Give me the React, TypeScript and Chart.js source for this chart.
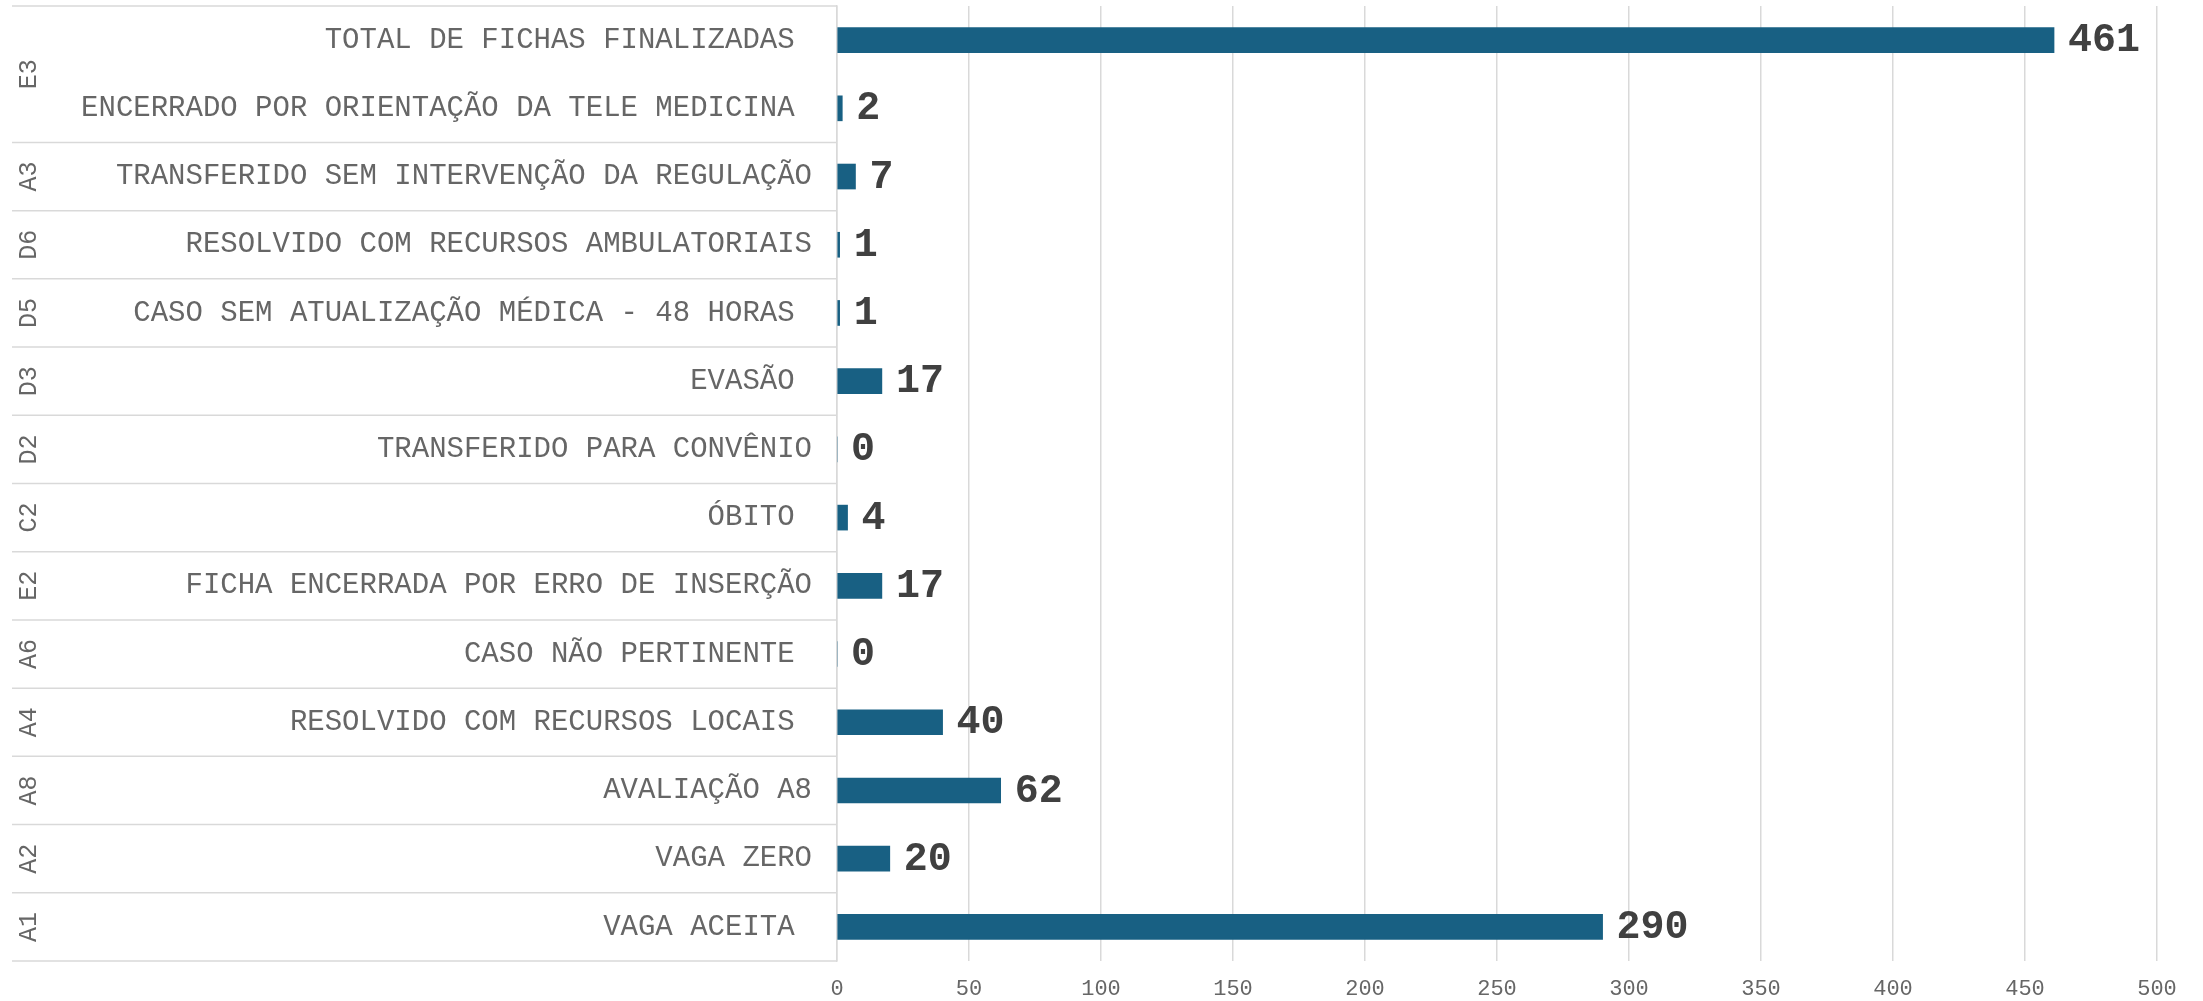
import React, { useEffect, useRef } from "react";
import { Chart, registerables } from "chart.js";

Chart.register(...registerables);

const groups: string[] = ["E3", "E3", "A3", "D6", "D5", "D3", "D2", "C2", "E2", "A6", "A4", "A8", "A2", "A1"];
const categories: string[] = [
  "TOTAL DE FICHAS FINALIZADAS ",
  "ENCERRADO POR ORIENTAÇÃO DA TELE MEDICINA ",
  "TRANSFERIDO SEM INTERVENÇÃO DA REGULAÇÃO",
  "RESOLVIDO COM RECURSOS AMBULATORIAIS",
  "CASO SEM ATUALIZAÇÃO MÉDICA - 48 HORAS ",
  "EVASÃO ",
  "TRANSFERIDO PARA CONVÊNIO",
  "ÓBITO ",
  "FICHA ENCERRADA POR ERRO DE INSERÇÃO",
  "CASO NÃO PERTINENTE ",
  "RESOLVIDO COM RECURSOS LOCAIS ",
  "AVALIAÇÃO A8",
  "VAGA ZERO",
  "VAGA ACEITA ",
];
const values: number[] = [461, 2, 7, 1, 1, 17, 0, 4, 17, 0, 40, 62, 20, 290];
const xMin = 0;
const xMax = 500;
const xStep = 50;

const MONO = "'Liberation Mono', 'DejaVu Sans Mono', monospace";
const GRID = "#d9d9d9";
const LABEL_GRAY = "#666666";

const groupPlugin = {
  id: "groupAxis",
  afterDraw(chart: any) {
    const { ctx, chartArea } = chart;
    const y = chart.scales.y;
    const n = categories.length;
    const left = 12;
    const right = chartArea.left;
    ctx.save();
    ctx.strokeStyle = GRID;
    ctx.lineWidth = 1.5;
    const line = (yy: number) => {
      ctx.beginPath();
      ctx.moveTo(left, yy);
      ctx.lineTo(right, yy);
      ctx.stroke();
    };
    line(chartArea.top);
    line(chartArea.bottom);
    for (let i = 0; i < n - 1; i++) {
      if (groups[i] !== groups[i + 1]) {
        line((y.getPixelForValue(i) + y.getPixelForValue(i + 1)) / 2);
      }
    }
    ctx.fillStyle = LABEL_GRAY;
    ctx.font = `25px ${MONO}`;
    ctx.textAlign = "center";
    ctx.textBaseline = "middle";
    let start = 0;
    for (let i = 1; i <= n; i++) {
      if (i === n || groups[i] !== groups[start]) {
        const cy = (y.getPixelForValue(start) + y.getPixelForValue(i - 1)) / 2;
        ctx.save();
        ctx.translate(29, cy);
        ctx.rotate(-Math.PI / 2);
        ctx.fillText(groups[start], 0, 0);
        ctx.restore();
        start = i;
      }
    }
    ctx.restore();
  },
};

const valueLabelPlugin = {
  id: "valueLabels",
  afterDatasetsDraw(chart: any) {
    const { ctx } = chart;
    const meta = chart.getDatasetMeta(0);
    ctx.save();
    ctx.fillStyle = "#404040";
    ctx.font = `bold 40px ${MONO}`;
    ctx.textAlign = "left";
    ctx.textBaseline = "middle";
    meta.data.forEach((bar: any, i: number) => {
      ctx.fillText(String(values[i]), bar.x + 14, bar.y + 1);
    });
    ctx.restore();
  },
};

export default function App() {
  const canvasRef = useRef<HTMLCanvasElement | null>(null);

  useEffect(() => {
    if (!canvasRef.current) return;
    const chart = new Chart(canvasRef.current, {
      type: "bar",
      data: {
        labels: categories,
        datasets: [
          {
            data: values,
            backgroundColor: "#186083",
            borderWidth: 0,
            barThickness: 25,
          },
        ],
      },
      options: {
        indexAxis: "y",
        animation: false,
        responsive: true,
        maintainAspectRatio: false,
        layout: { padding: { top: 6, right: 46, bottom: 0, left: 0 } },
        plugins: {
          legend: { display: false },
          tooltip: { enabled: false },
          title: { display: false },
        },
        scales: {
          y: {
            type: "category",
            grid: { display: false, drawTicks: false },
            border: { display: true, color: GRID, width: 1.5 },
            ticks: {
              font: { family: MONO, size: 29 },
              color: LABEL_GRAY,
              padding: 25,
              autoSkip: false,
            },
            afterFit: (s: any) => {
              s.width = 837;
              s.paddingTop = 0;
              s.paddingBottom = 0;
            },
          },
          x: {
            type: "linear",
            min: xMin,
            max: xMax,
            grid: { color: GRID, lineWidth: 1.5, drawTicks: false },
            border: { display: false },
            ticks: {
              stepSize: xStep,
              font: { family: MONO, size: 22 },
              color: LABEL_GRAY,
              padding: 15,
            },
            afterFit: (s: any) => {
              s.height = 40;
              s.paddingLeft = 0;
              s.paddingRight = 0;
            },
          },
        },
      },
      plugins: [groupPlugin, valueLabelPlugin],
    });
    return () => chart.destroy();
  }, []);

  return (
    <div style={{ position: "fixed", left: 0, top: 0, width: "2203px", height: "1001px", background: "#fff" }}>
      <canvas ref={canvasRef} />
    </div>
  );
}
